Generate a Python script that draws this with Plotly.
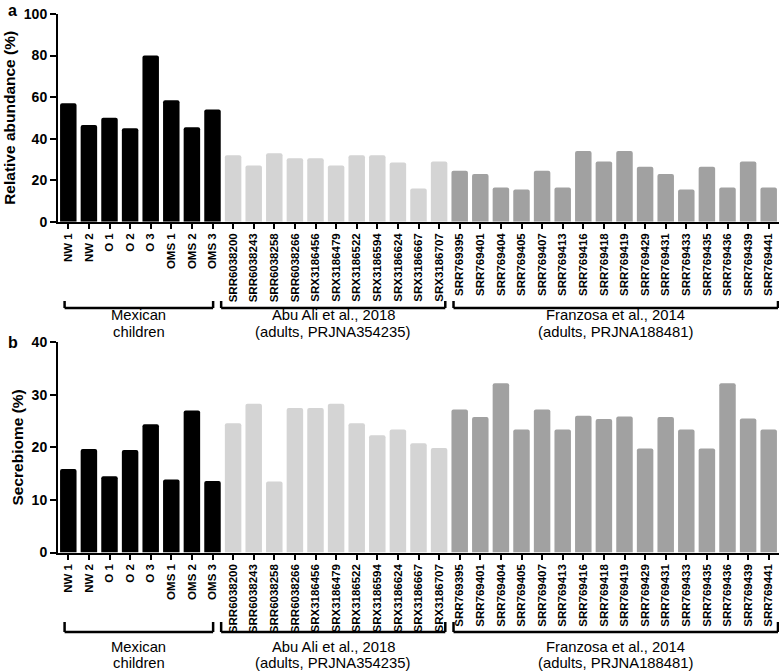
import plotly.graph_objects as go

# ---------------- data ----------------
mex_samples = ["NW 1", "NW 2", "O 1", "O 2", "O 3", "OMS 1", "OMS 2", "OMS 3"]
abu_samples = ["SRR6038200", "SRR6038243", "SRR6038258", "SRR6038266", "SRX3186456",
               "SRX3186479", "SRX3186522", "SRX3186594", "SRX3186624", "SRX3186667",
               "SRX3186707"]
fra_samples = ["SRR769395", "SRR769401", "SRR769404", "SRR769405", "SRR769407",
               "SRR769413", "SRR769416", "SRR769418", "SRR769419", "SRR769429",
               "SRR769431", "SRR769433", "SRR769435", "SRR769436", "SRR769439",
               "SRR769441"]

# panel a: relative abundance (%)
mex_abund = [57, 46.5, 50, 45, 80, 58.5, 45.5, 54]
abu_abund = [32, 27, 33, 30.5, 30.5, 27, 32, 32, 28.5, 16, 29]
fra_abund = [24.5, 23, 16.5, 15.5, 24.5, 16.5, 34, 29, 34, 26.5, 23, 15.5, 26.5, 16.5, 29, 16.5]

# panel b: secrebiome (%)
mex_secr = [15.9, 19.7, 14.5, 19.5, 24.4, 13.9, 27.0, 13.6]
abu_secr = [24.6, 28.3, 13.5, 27.5, 27.5, 28.3, 24.6, 22.3, 23.4, 20.8, 19.9]
fra_secr = [27.2, 25.8, 32.2, 23.4, 27.2, 23.4, 26.0, 25.4, 25.9, 19.8, 25.8, 23.4, 19.8, 32.2, 25.5, 23.4]

group_labels = [["Mexican", "children"],
                ["Abu Ali et al., 2018", "(adults, PRJNA354235)"],
                ["Franzosa et al., 2014", "(adults, PRJNA188481)"]]

yticks_a = [0, 20, 40, 60, 80, 100]
yticks_b = [0, 10, 20, 30, 40]

# ---------------- style ----------------
W, H = 784, 671
FONT = "Arial, Liberation Sans, sans-serif"
colors = ["#000000", "#d4d4d4", "#a1a1a1"]
groups = [mex_samples, abu_samples, fra_samples]
all_samples = mex_samples + abu_samples + fra_samples


def py(px):
    return 1 - px / H


fig = go.Figure()
for samples, va, vb, c in zip(groups, [mex_abund, abu_abund, fra_abund],
                              [mex_secr, abu_secr, fra_secr], colors):
    fig.add_trace(go.Bar(x=samples, y=va, marker=dict(color=c, line=dict(width=0)),
                         xaxis="x", yaxis="y", showlegend=False))
    fig.add_trace(go.Bar(x=samples, y=vb, marker=dict(color=c, line=dict(width=0)),
                         xaxis="x2", yaxis="y2", showlegend=False))

xdom = [58 / W, 779 / W]
n = len(all_samples)
xcommon = dict(type="category", categoryorder="array", categoryarray=all_samples,
               range=[-0.5, n - 0.5], showline=True, linewidth=2, linecolor="black",
               ticks="outside", ticklen=5, tickwidth=2, tickcolor="black",
               tickangle=-90, tickfont=dict(family=FONT, size=11.5, color="black", weight="bold"),
               showgrid=False, zeroline=False, domain=xdom, fixedrange=True,
               automargin=False)
ycommon = dict(showline=True, linewidth=2, linecolor="black", ticks="outside",
               ticklen=6, tickwidth=2, tickcolor="black", showgrid=False, zeroline=False,
               tickfont=dict(family=FONT, size=14, color="black", weight="bold"),
               title_font=dict(family=FONT, size=15.5, color="black", weight="bold"),
               title_standoff=4, automargin=False, fixedrange=True)

fig.update_layout(
    width=W, height=H, margin=dict(l=0, r=0, t=0, b=0, autoexpand=False),
    paper_bgcolor="white", plot_bgcolor="white",
    bargap=0.2, barcornerradius=2,
    xaxis=dict(xcommon, anchor="y"),
    xaxis2=dict(xcommon, anchor="y2"),
    yaxis=dict(ycommon, anchor="x", range=[0, 100], tickvals=yticks_a,
               domain=[py(221.7), py(14)], title_text="Relative abundance (%)"),
    yaxis2=dict(ycommon, anchor="x2", range=[0, 40], tickvals=yticks_b,
                domain=[py(552.5), py(342.3)], title_text="Secrebiome (%)"),
    font=dict(family=FONT, color="black"),
)

# brackets and group labels
bracket_x = [(-0.18, 7.03), (7.42, 18.3), (18.7, 34.45)]
panels = [("x", 301, 308, 315, 332), ("x2", 622, 632, 646.5, 662.5)]
for xref, ytop, ybot, l1, l2 in panels:
    for (x0, x1), lab in zip(bracket_x, group_labels):
        line = dict(color="black", width=2.5)
        fig.add_shape(type="line", xref=xref, yref="paper", x0=x0, x1=x0,
                      y0=py(ytop), y1=py(ybot), line=line)
        fig.add_shape(type="line", xref=xref, yref="paper", x0=x1, x1=x1,
                      y0=py(ytop), y1=py(ybot), line=line)
        fig.add_shape(type="line", xref=xref, yref="paper", x0=x0, x1=x1,
                      y0=py(ybot), y1=py(ybot), line=line)
        for txt, yy in zip(lab, (l1, l2)):
            fig.add_annotation(text=txt, xref=xref, yref="paper", x=(x0 + x1) / 2,
                               y=py(yy), showarrow=False, xanchor="center", yanchor="middle",
                               font=dict(family=FONT, size=14.8, color="black"))

# panel letters
for letter, yy in (("a", 10), ("b", 342)):
    fig.add_annotation(text=letter, xref="paper", yref="paper", x=6 / W, y=py(yy),
                       showarrow=False, xanchor="left", yanchor="middle",
                       font=dict(family=FONT, size=16, color="black", weight="bold"))

fig.write_html("out.html", config={"displayModeBar": False},
               post_script="document.body.style.margin='0';document.body.style.overflow='hidden';")
